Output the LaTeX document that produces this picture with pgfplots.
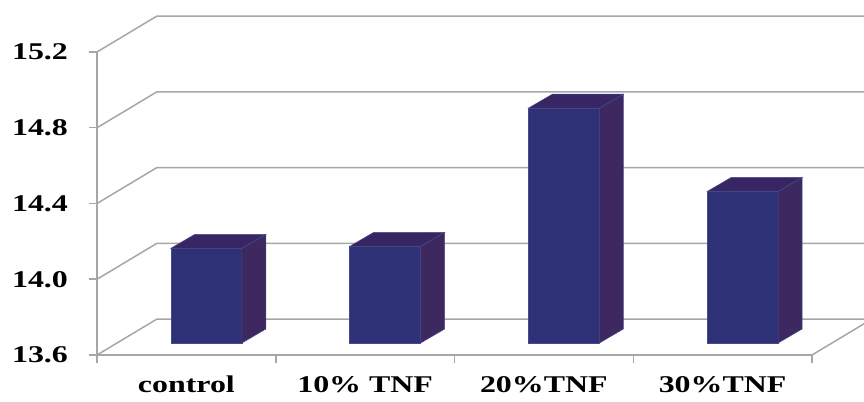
\documentclass[border=0pt]{standalone}
\usepackage{pgfplots}
\pgfplotsset{compat=1.18}
\usepackage{pgfplotstable}
\usepackage{graphicx}
\usepackage{fontspec}
\setmainfont{Liberation Serif}
\definecolor{front}{RGB}{47,49,119}
\definecolor{side}{RGB}{61,40,96}
\definecolor{topc}{RGB}{56,38,100}
\definecolor{edgec}{RGB}{70,74,140}
\definecolor{gridc}{RGB}{166,166,166}
\pgfplotstableread{
idx v
0 14.10
1 14.11
2 14.84
3 14.40
}\datatbl
\newcommand{\lbl}[1]{\scalebox{1.33}[1]{\bfseries\fontsize{12}{14}\selectfont #1}}
\begin{document}
\begin{tikzpicture}
\begin{axis}[
  scale only axis, width=357.5pt, height=151.5pt,
  xmin=-0.5, xmax=3.5, ymin=13.6, ymax=15.2, clip=false,
  axis x line*=bottom, axis y line*=left,
  axis line style={gridc, line width=0.75pt},
  tick style={gridc, line width=0.75pt},
  tick align=outside,
  major tick length=4pt,
  ytick={13.6,14.0,14.4,14.8,15.2},
  yticklabels={\lbl{13.6},\lbl{14.0},\lbl{14.4},\lbl{14.8},\lbl{15.2}},
  yticklabel style={xshift=-7pt},
  xtick={-0.5,0.5,1.5,2.5,3.5},
  xticklabels={,,,,},
  extra x ticks={0,1,2,3},
  extra x tick labels={\lbl{control},\lbl{10\% TNF},\lbl{20\%TNF},\lbl{30\%TNF}},
  extra x tick style={major tick length=0pt, xticklabel style={yshift=-7pt}},
]
% walls (left wall slants and back wall horizontals)
\addplot[gridc, line width=0.75pt] coordinates {(-0.5,13.6) (-0.1643,13.79) (3.8357,13.79)};
\addplot[gridc, line width=0.75pt] coordinates {(-0.5,14.0) (-0.1643,14.19) (3.8357,14.19)};
\addplot[gridc, line width=0.75pt] coordinates {(-0.5,14.4) (-0.1643,14.59) (3.8357,14.59)};
\addplot[gridc, line width=0.75pt] coordinates {(-0.5,14.8) (-0.1643,14.99) (3.8357,14.99)};
\addplot[gridc, line width=0.75pt] coordinates {(-0.5,15.2) (-0.1643,15.39) (3.8357,15.39)};
\addplot[gridc, line width=0.75pt] coordinates {(3.5,13.6) (3.8357,13.79)};
% bars
\pgfplotsinvokeforeach{0,1,2,3}{
  \pgfplotstablegetelem{#1}{v}\of\datatbl
  \pgfmathsetmacro\xa{#1-0.0867}
  \pgfmathsetmacro\xb{#1+0.3105}
  \pgfmathsetmacro\xc{#1+0.4448}
  \pgfmathsetmacro\xd{#1+0.0476}
  \pgfmathsetmacro\yt{\pgfplotsretval+0.0634}
  \pgfmathsetmacro\ytt{\pgfplotsretval+0.1373}
  \edef\temp{%
    \noexpand\addplot[fill=front, draw=edgec, line width=0.25pt] coordinates {(\xa,13.6634) (\xb,13.6634) (\xb,\yt) (\xa,\yt)} -- cycle;
    \noexpand\addplot[fill=topc, draw=edgec, line width=0.25pt] coordinates {(\xa,\yt) (\xb,\yt) (\xc,\ytt) (\xd,\ytt)} -- cycle;
    \noexpand\addplot[fill=side, draw=edgec, line width=0.25pt] coordinates {(\xb,13.6634) (\xc,13.7373) (\xc,\ytt) (\xb,\yt)} -- cycle;
  }\temp
}
\coordinate (bbll) at (axis cs:-1.0427,13.3518);
\coordinate (bbur) at (axis cs:3.791,15.4746);
\end{axis}
\pgfresetboundingbox
\path[use as bounding box] (bbll) rectangle (bbur);
\end{tikzpicture}
\end{document}
